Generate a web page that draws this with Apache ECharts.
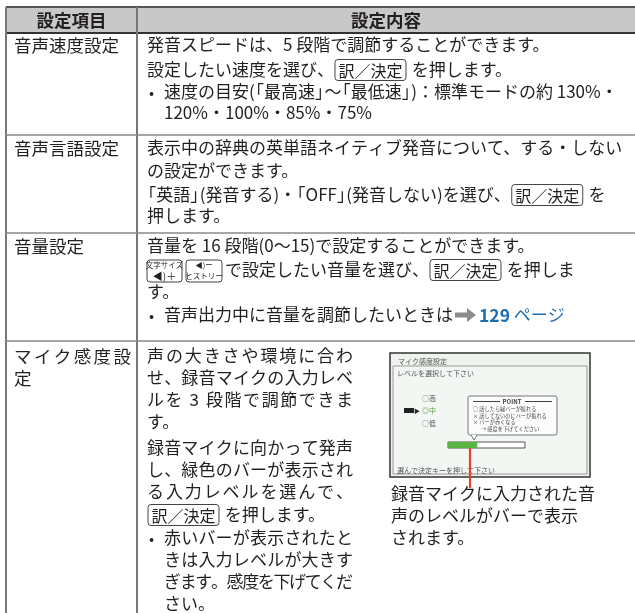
<!DOCTYPE html>
<html><head><meta charset="utf-8">
<script src="https://cdn.jsdelivr.net/npm/echarts@6/dist/echarts.min.js"></script>
<style>html,body{margin:0;padding:0;background:#fff}#c{width:635px;height:613px}</style>
</head><body><div id="c"></div>
<script>
// ---- data ----
const headers = ['設定項目', '設定内容'];
const itemLabels = ['音声速度設定', '音声言語設定', '音量設定', 'マイク感度設定'];
const row1Lines = [
  '発音スピードは、5 段階で調節することができます。',
  '設定したい速度を選び、{k|訳／決定} を押します。',
  '• 速度の目安(「最高速」～「最低速」)：標準モードの約 130%・',
  '120%・100%・85%・75%'
];
const row2Lines = [
  '表示中の辞典の英単語ネイティブ発音について、する・しない',
  'の設定ができます。',
  '「英語」(発音する)・「OFF」(発音しない)を選び、{k|訳／決定} を',
  '押します。'
];
const row3Lines = [
  '音量を 16 段階(0～15)で設定することができます。',
  'で設定したい音量を選び、{k|訳／決定} を押しま',
  'す。',
  '• 音声出力中に音量を調節したいときは{ar|➔}{lnb|129}{ln| ページ}'
];
const row4Lines = [
  '声の大きさや環境に合わ',
  'せ、録音マイクの入力レベ',
  'ルを 3 段階で調節できま',
  'す。',
  '録音マイクに向かって発声',
  'し、緑色のバーが表示され',
  'る入力レベルを選んで、',
  '{k|訳／決定} を押します。',
  '• 赤いバーが表示されたと',
  'きは入力レベルが大きす',
  'ぎます。感度を下げてくだ',
  'さい。'
];
const row4Justified = [true, true, true, false, true, true, true, false, true, true, true, false];
const captionLines = ['録音マイクに入力された音', '声のレベルがバーで表示', 'されます。'];
const screenTitle = 'マイク感度設定';
const screenPrompt = 'レベルを選択して下さい';
const screenOptions = ['○高', '◎中', '○低'];
const pointLines = ['○ 話したら緑バーが振れる', '× 話してないのにバーが振れる', '× バーが赤くなる', '→ 感度を下げてください'];
const screenFooter = '選んで決定キーを押して下さい';
const iconKeys = [['文字サイズ', '◀)＋'], ['◀)ー', 'ヒストリー']];
const levelValue = [38]; // percent of input level bar (green)

// ---- layout engine ----
const FF = '"Noto Sans CJK JP","Noto Sans",sans-serif';
const FS = 17;
const TXT = '#231f20';
const BLUE = '#1d6db5';
// punctuation: [advance in em, glyph offset in em]
const PUNCT = {'「': [0.55, -0.45], '」': [0.55, 0]};
const g = [];
const mctx = document.createElement('canvas').getContext('2d');
function measure(s, fs, bold) {
  mctx.font = (bold ? 'bold ' : '') + fs + 'px ' + FF;
  return mctx.measureText(s).width;
}
function txt(x, y, s, opts) {
  opts = opts || {};
  g.push({type: 'text', x: x, y: y, z: 10, style: Object.assign({
    text: s, fill: TXT, fontSize: FS, fontFamily: FF,
    textAlign: 'left', textVerticalAlign: 'middle'
  }, opts)});
}
function line(x1, y1, x2, y2, stroke, w, z) {
  g.push({type: 'line', z: z || 5, shape: {x1, y1, x2, y2}, style: {stroke: stroke, lineWidth: w}});
}
function rect(x, y, w, h, style, z, r) {
  g.push({type: 'rect', z: z || 5, shape: {x, y, width: w, height: h, r: r || 0}, style: style});
}
function plain(x, y, s, fs, fill, bold) {
  let run = '';
  const flush = () => {
    if (run) {
      txt(x, y, run, {fontSize: fs, fill: fill || TXT, fontWeight: bold ? 'bold' : 'normal'});
      x += measure(run, fs, bold); run = '';
    }
  };
  for (const ch of s) {
    if (PUNCT[ch]) {
      flush();
      txt(x + PUNCT[ch][1] * fs, y, ch, {fontSize: fs, fill: fill || TXT});
      x += PUNCT[ch][0] * fs;
    } else run += ch;
  }
  flush();
  return x;
}
function keyBox(x, y, label) {
  const fs = FS - 1;
  const w = measure(label, fs);
  x += 1;
  rect(x, y - 10.5, w + 7, 21, {fill: 'none', stroke: '#444', lineWidth: 1}, 9, 3);
  txt(x + 3.5, y + 0.5, label, {fontSize: fs});
  return x + w + 9;
}
function arrow(x, y) {
  x += 2;
  g.push({type: 'polygon', z: 9, shape: {points: [
    [x, y - 2.5], [x + 12, y - 2.5], [x + 12, y - 7], [x + 21, y], [x + 12, y + 7], [x + 12, y + 2.5], [x, y + 2.5]
  ]}, style: {fill: '#8c8c8c'}});
  return x + 24;
}
function flow(x, y, s, fs) {
  fs = fs || FS;
  const re = /\{(\w+)\|([^}]*)\}/g;
  let last = 0, m;
  while ((m = re.exec(s))) {
    x = plain(x, y, s.slice(last, m.index), fs);
    if (m[1] === 'k') x = keyBox(x, y, m[2]);
    else if (m[1] === 'ar') x = arrow(x, y);
    else if (m[1] === 'lnb') x = plain(x, y, m[2], fs + 0.5, BLUE, true);
    else if (m[1] === 'ln') x = plain(x, y, m[2], fs, BLUE);
    last = re.lastIndex;
  }
  return plain(x, y, s.slice(last), fs);
}
function justify(x0, x1, y, s, fs) {
  fs = fs || FS;
  const chars = Array.from(s);
  const adv = chars.map(c => PUNCT[c] ? PUNCT[c][0] * fs : measure(c, fs));
  const nat = adv.reduce((a, b) => a + b, 0);
  const gap = chars.length > 1 ? (x1 - x0 - nat) / (chars.length - 1) : 0;
  let x = x0;
  chars.forEach((c, i) => {
    if (c !== ' ') txt(x + (PUNCT[c] ? PUNCT[c][1] * fs : 0), y, c, {fontSize: fs});
    x += adv[i] + gap;
  });
}
function bulletLines(lines, x0, ys, just, xr) {
  let inBullet = false;
  lines.forEach((s, i) => {
    let tx = x0, body = s;
    if (s.startsWith('• ')) {
      inBullet = true;
      txt(x0 + 2, ys[i], '•', {fontSize: 15});
      tx = x0 + 17; body = s.slice(2);
    } else if (inBullet && i > 0) {
      tx = x0 + 17;
    }
    if (just && just[i]) justify(tx, xr, ys[i], body);
    else flow(tx, ys[i], body);
  });
}

const L = 6, C = 137, R = 635;
// header
rect(L, 7, R - L, 26, {fill: '#c8c8c8'}, 1);
line(L, 7, R, 7, '#555', 2);
line(L, 33, R, 33, '#333', 2);
txt((L + C) / 2, 20, headers[0], {textAlign: 'center', fontWeight: 'bold', fontSize: 17.5});
txt((C + R) / 2, 20, headers[1], {textAlign: 'center', fontWeight: 'bold', fontSize: 17.5});
// grid lines
line(L, 7, L, 613, '#777', 2);
line(C, 7, C, 613, '#777', 2);
[135, 233, 341].forEach(y => line(L, y, R, y, '#888', 1.5));

// item labels
const labelYs = [45, 148, 246, 356];
itemLabels.forEach((s, i) => {
  if (i === 3) {
    justify(14, 131, labelYs[i], s.slice(0, 6), 17.5);
    txt(14, labelYs[i] + 22, s.slice(6), {fontSize: 17.5});
  } else {
    txt(14, labelYs[i], s, {fontSize: 17.5});
  }
});

const X = 147;
bulletLines(row1Lines, X, [45, 70, 92, 113]);
bulletLines(row2Lines, X, [148, 171, 195, 216]);
// row 3
flow(X, 246, row3Lines[0]);
[[147, 35], [186, 36]].forEach((p, i) => {
  rect(p[0], 260, p[1], 22, {fill: '#fff', stroke: '#444', lineWidth: 1}, 6, 3);
  txt(p[0] + p[1] / 2, 265.5, iconKeys[i][0], {textAlign: 'center', fontSize: 7.5});
  txt(p[0] + p[1] / 2, 276, iconKeys[i][1], {textAlign: 'center', fontSize: i === 0 ? 10 : 7.5});
});
flow(225, 270, row3Lines[1]);
flow(X, 292, row3Lines[2]);
bulletLines([row3Lines[3]], X, [315]);
// row 4 left
const r4ys = [356, 378, 400, 422, 448, 470, 492, 515, 538, 560, 582, 604];
bulletLines(row4Lines, X, r4ys, row4Justified, 353);

// screenshot mock
const SX = 390, SY = 353;
rect(SX, SY, 200, 124, {fill: '#eef3ee', stroke: '#333', lineWidth: 1.5}, 6);
txt(SX + 8, SY + 8, screenTitle, {fontSize: 7, fill: '#555'});
rect(SX + 3, SY + 13, 194, 108, {fill: '#f3f7f3', stroke: '#999', lineWidth: 1}, 7);
txt(SX + 7, SY + 20, screenPrompt, {fontSize: 7, fill: '#555'});
screenOptions.forEach((s, i) => txt(SX + 32, SY + 45 + i * 12.5, s, {fontSize: 7, fill: i === 1 ? '#5a9a46' : '#555'}));
rect(SX + 14, SY + 55, 10, 5, {fill: '#222'}, 8);
txt(SX + 24, SY + 57.5, '▶', {fontSize: 6, fill: '#222'});
rect(468, 396, 89, 39, {fill: '#fbfcfb', stroke: '#777', lineWidth: 1}, 8, 2);
g.push({type: 'polyline', z: 9, shape: {points: [[471, 435], [474, 440], [477, 435]]}, style: {stroke: '#777', fill: '#fbfcfb', lineWidth: 1}});
txt(512, 401.5, 'POINT', {fontSize: 6, fontWeight: 'bold', textAlign: 'center', fill: '#444'});
line(473, 401.5, 500, 401.5, '#444', 1, 9);
line(525, 401.5, 552, 401.5, '#444', 1, 9);
pointLines.forEach((s, i) => txt(i === 3 ? 481 : 473, 409 + i * 6.7, s, {fontSize: 5.2, fill: '#444'}));
txt(SX + 7, SY + 117, screenFooter, {fontSize: 7, fill: '#555'});
line(470, 448, 470, 488, '#e4422e', 2.2, 12);
captionLines.forEach((s, i) => plain(391, 494 + i * 22, s, 17));

const chart = echarts.init(document.getElementById('c'), null, {renderer: 'canvas'});
chart.setOption({
  animation: false,
  backgroundColor: '#fff',
  grid: {left: 448, top: 442, width: 77, height: 6, containLabel: false},
  xAxis: {type: 'value', min: 0, max: 100, show: false},
  yAxis: {type: 'category', data: ['level'], show: false},
  series: [{
    type: 'bar', data: levelValue, barWidth: '100%', z: 11,
    itemStyle: {color: '#5bb544'},
    showBackground: true,
    backgroundStyle: {color: '#fff', borderColor: '#555', borderWidth: 1}
  }],
  graphic: g
});
</script></body></html>
